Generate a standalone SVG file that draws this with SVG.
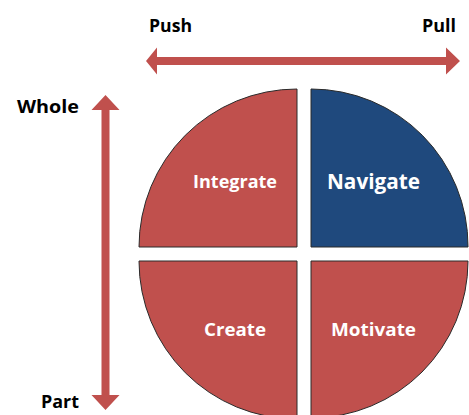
<svg xmlns="http://www.w3.org/2000/svg" width="469" height="415" viewBox="0 0 469 415">
  <style>
    .lbl { font-family: "Open Sans", "Liberation Sans", sans-serif; font-weight: bold; fill: #000; font-size: 18px; }
    .qtxt { font-family: "Open Sans", "Liberation Sans", sans-serif; font-weight: bold; fill: #fff; font-size: 18px; text-anchor: middle; }
    .red { fill: #C0504D; stroke: #2a2a2a; stroke-width: 1; }
    .blue { fill: #1F497D; stroke: #2a2a2a; stroke-width: 1; }
    .axis { fill: #C0504D; }
  </style>

  <!-- axis arrows -->
  <g id="connectors">
    <polygon class="axis" points="146,61 157,47.5 157,57 446,57 446,47.5 460,61 446,74.5 446,65 157,65 157,74.5"/>
    <polygon class="axis" points="105.5,95 119.5,110 109.5,110 109.5,395 119.5,395 105.5,410 91.5,395 101.5,395 101.5,110 91.5,110"/>
  </g>

  <!-- axis labels -->
  <g id="axis-labels">
    <text class="lbl" x="149" y="32" textLength="43" lengthAdjust="spacingAndGlyphs">Push</text>
    <text class="lbl" x="422" y="32" textLength="34" lengthAdjust="spacingAndGlyphs">Pull</text>
    <text class="lbl" x="17" y="113" textLength="62" lengthAdjust="spacingAndGlyphs">Whole</text>
    <text class="lbl" x="41" y="408" textLength="38" lengthAdjust="spacingAndGlyphs">Part</text>
  </g>

  <!-- quadrants -->
  <g id="integrate">
    <path class="red" d="M297,247 L139,247 A158,158 0 0 1 297,89 Z"/>
    <text class="qtxt" x="235" y="188" textLength="84" lengthAdjust="spacingAndGlyphs">Integrate</text>
  </g>
  <g id="navigate">
    <path class="blue" d="M311,247 L311,89 A157,157 0 0 1 468,247 Z"/>
    <text class="qtxt" x="373.5" y="189" style="font-size:22px" textLength="93" lengthAdjust="spacingAndGlyphs">Navigate</text>
  </g>
  <g id="create">
    <path class="red" d="M297,261 L297,419 A158,158 0 0 1 139,261 Z"/>
    <text class="qtxt" x="235" y="336" textLength="62" lengthAdjust="spacingAndGlyphs">Create</text>
  </g>
  <g id="motivate">
    <path class="red" d="M311,261 L468,261 A157,157 0 0 1 311,418 Z"/>
    <text class="qtxt" x="373.5" y="336" textLength="85" lengthAdjust="spacingAndGlyphs">Motivate</text>
  </g>
</svg>
